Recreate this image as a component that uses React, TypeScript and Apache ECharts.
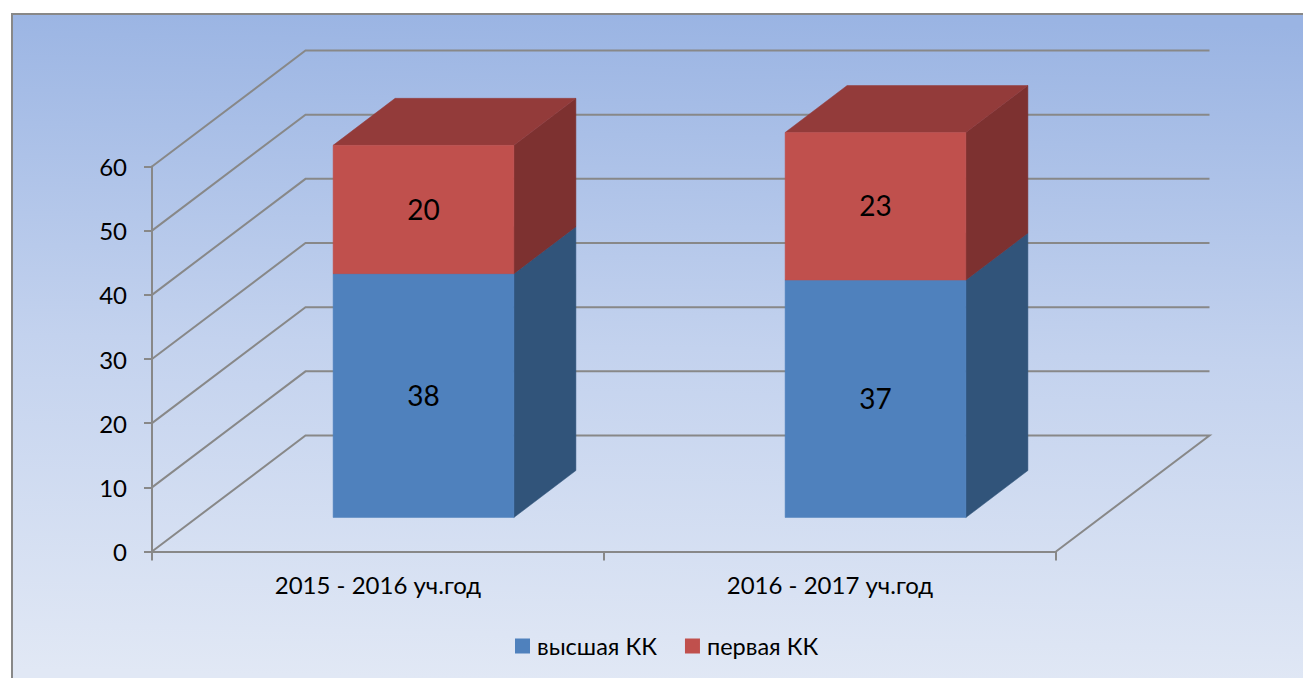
import React, { useEffect, useRef } from "react";
import * as echarts from "echarts";

const categories = ["2015 - 2016 уч.год", "2016 - 2017 уч.год"];
const highest = [38, 37];
const first = [20, 23];
const yTicks = [0, 10, 20, 30, 40, 50, 60];
const seriesNames = ["высшая КК", "первая КК"];

const FONT = "Lato, 'Noto Sans', sans-serif";
const LINE = "#888888";
const WALL_DX = 153.5;
const WALL_DY = -116;
const BAR_DX = 45.5;
const BAR_DY = -34;
const DEPTH_DX = 62;
const DEPTH_DY = -47;
const BAR_FRACTION = 0.4;

function barItem(front: string, side: string, top: string) {
  return (params: any, api: any) => {
    const i = api.value(0);
    const lo = api.value(1);
    const hi = api.value(2);
    const band = api.size([1, 0])[0];
    const w = band * BAR_FRACTION;
    const cx = api.coord([i, 0])[0] + BAR_DX;
    const x0 = cx - w / 2;
    const x1 = cx + w / 2;
    const yLo = api.coord([i, lo])[1] + BAR_DY;
    const yHi = api.coord([i, hi])[1] + BAR_DY;
    const poly = (points: number[][], fill: string) => ({
      type: "polygon",
      shape: { points },
      style: { fill, stroke: fill, lineWidth: 0.5 },
    });
    return {
      type: "group",
      children: [
        poly([[x1, yLo], [x1 + DEPTH_DX, yLo + DEPTH_DY], [x1 + DEPTH_DX, yHi + DEPTH_DY], [x1, yHi]], side),
        poly([[x0, yHi], [x1, yHi], [x1 + DEPTH_DX, yHi + DEPTH_DY], [x0 + DEPTH_DX, yHi + DEPTH_DY]], top),
        poly([[x0, yLo], [x1, yLo], [x1, yHi], [x0, yHi]], front),
        {
          type: "text",
          style: {
            x: cx,
            y: (yLo + yHi) / 2 - 1,
            text: String(hi - lo),
            fill: "#000000",
            font: `28px ${FONT}`,
            align: "center",
            verticalAlign: "middle",
          },
        },
      ],
    };
  };
}

function gridItem(params: any, api: any) {
  const v = api.value(0);
  const y = api.coord([0, v])[1];
  const { x, width } = params.coordSys;
  return {
    type: "polyline",
    shape: {
      points: [
        [x, y],
        [x + WALL_DX, y + WALL_DY],
        [x + width + WALL_DX, y + WALL_DY],
        ...(v === 0 ? [[x + width, y]] : []),
      ],
    },
    style: { fill: "none", stroke: LINE, lineWidth: 2 },
  };
}

export default function App() {
  const ref = useRef<HTMLDivElement>(null);
  useEffect(() => {
    const chart = echarts.init(ref.current!, undefined, { renderer: "svg" });
    const lowData = categories.map((_, i) => [i, 0, highest[i]]);
    const highData = categories.map((_, i) => [i, highest[i], highest[i] + first[i]]);
    chart.setOption({
      animation: false,
      backgroundColor: "#ffffff",
      graphic: [
        {
          type: "rect",
          z: -10,
          silent: true,
          shape: { x: 12, y: 14, width: 1320, height: 668 },
          style: {
            fill: new echarts.graphic.LinearGradient(0.52, 0, 0.48, 1, [
              { offset: 0, color: "#9ab4e3" },
              { offset: 0.5, color: "#c3d2ee" },
              { offset: 1, color: "#e1e8f5" },
            ]),
            stroke: LINE,
            lineWidth: 2,
          },
        },
      ],
      grid: { left: 152, top: 166.5, width: 904, height: 385 },
      legend: {
        left: 510,
        top: 629,
        itemWidth: 15,
        itemHeight: 15,
        itemGap: 28,
        icon: "rect",
        data: seriesNames,
        textStyle: { fontFamily: FONT, fontSize: 23.5, color: "#000000", padding: [0, 0, 0, 2] },
      },
      xAxis: {
        type: "category",
        data: categories,
        axisLine: { show: true, lineStyle: { color: LINE, width: 2 } },
        axisTick: { show: true, length: 9, lineStyle: { color: LINE, width: 2 } },
        axisLabel: { fontFamily: FONT, fontSize: 24, color: "#000000", margin: 21 },
      },
      yAxis: {
        type: "value",
        min: 0,
        max: 60,
        interval: 10,
        splitLine: { show: false },
        axisLine: { show: true, lineStyle: { color: LINE, width: 2 } },
        axisTick: { show: true, length: 8, lineStyle: { color: LINE, width: 2 } },
        axisLabel: { fontFamily: FONT, fontSize: 24, color: "#000000", margin: 25 },
      },
      series: [
        {
          type: "custom",
          name: "grid",
          silent: true,
          z: 1,
          renderItem: gridItem,
          encode: { y: 0 },
          data: yTicks.map((v) => [v]),
        },
        {
          type: "custom",
          name: seriesNames[0],
          z: 2,
          itemStyle: { color: "#4f81bd" },
          renderItem: barItem("#4f81bd", "#31547a", "#3c6494"),
          encode: { x: 0, y: [1, 2] },
          data: lowData,
        },
        {
          type: "custom",
          name: seriesNames[1],
          z: 3,
          itemStyle: { color: "#c0504d" },
          renderItem: barItem("#c0504d", "#7d3130", "#933b3a"),
          encode: { x: 0, y: [1, 2] },
          data: highData,
        },
      ],
    });
    return () => chart.dispose();
  }, []);
  return <div ref={ref} style={{ position: "absolute", left: 0, top: 0, width: 1303, height: 678 }} />;
}
